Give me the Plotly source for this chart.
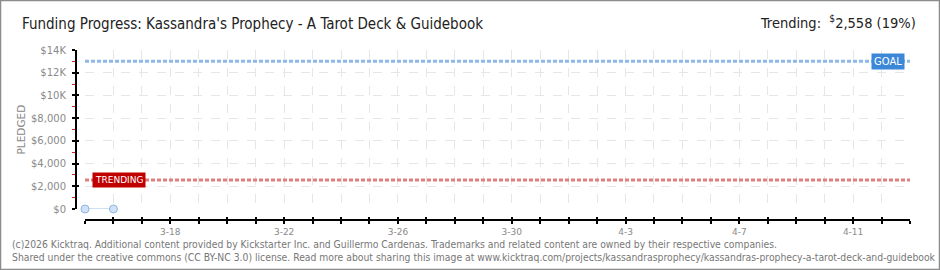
import plotly.graph_objects as go
import pandas as pd

# ---- data ----
dates = ["2026-03-15", "2026-03-16"]
pledged = [0, 0]
goal = 13000
trending = 2558
trending_pct = 19
x_start = "2026-03-15"
x_end = "2026-04-13"
y_tickvals = [0, 2000, 4000, 6000, 8000, 10000, 12000, 14000]
y_ticktext = ["$0", "$2,000", "$4,000", "$6,000", "$8,000", "$10K", "$12K", "$14K"]
y_minor = [1000, 3000, 5000, 7000, 9000, 11000, 13000]
title_text = "Funding Progress: Kassandra's Prophecy - A Tarot Deck & Guidebook"
footer1 = ("(c)2026 Kicktraq. Additional content provided by Kickstarter Inc. and Guillermo Cardenas. "
           "Trademarks and related content are owned by their respective companies.")
footer2 = ("Shared under the creative commons (CC BY-NC 3.0) license. Read more about sharing this image at "
           "www.kicktraq.com/projects/kassandrasprophecy/kassandras-prophecy-a-tarot-deck-and-guidebook")

# ---- layout geometry ----
W, H = 940, 270
ML, MR, MT, MB = 76, 30, 50, 50
PW, PH = W - ML - MR, H - MT - MB


def px(x):
    return (x - ML) / PW


def py(y):
    return (H - MB - y) / PH


days = pd.date_range(x_start, x_end, freq="D")
day_text = [d.strftime("%-m-%-d") if (d - pd.Timestamp("2026-03-18")).days % 4 == 0 else " " for d in days]

fig = go.Figure()

# goal and trending lines
fig.add_trace(go.Scatter(x=[x_start, x_end], y=[goal, goal], mode="lines",
                         line=dict(color="#8db8e8", width=3, dash="4px,2px"),
                         hoverinfo="skip", showlegend=False))
fig.add_trace(go.Scatter(x=[x_start, x_end], y=[trending, trending], mode="lines",
                         line=dict(color="#df7f7f", width=3, dash="4px,2px"),
                         hoverinfo="skip", showlegend=False))
# pledged data
fig.add_trace(go.Scatter(x=dates, y=pledged, mode="lines+markers",
                         line=dict(color="#cfe1f5", width=2),
                         marker=dict(size=8, color="#cfe2f8", line=dict(color="#8fb6e0", width=1)),
                         cliponaxis=False, showlegend=False))
# overlay trace on second axes to create inside ticks
fig.add_trace(go.Scatter(x=[x_start], y=[None], xaxis="x2", yaxis="y2", showlegend=False,
                         hoverinfo="skip"))

font_tick = dict(family="DejaVu Sans", size=9, color="#8a8a8a")

fig.update_layout(
    width=W, height=H,
    margin=dict(l=ML, r=MR, t=MT, b=MB),
    paper_bgcolor="white", plot_bgcolor="white",
    xaxis=dict(
        domain=[9 / PW, 1], range=[x_start, x_end], anchor="free", position=0,
        tickmode="array", tickvals=days, ticktext=day_text,
        ticks="outside", ticklen=3, tickwidth=1.5, tickcolor="black",
        showline=True, linecolor="black", linewidth=2,
        showgrid=True, gridcolor="#e6e6e6", griddash="dash", gridwidth=1,
        tickfont=font_tick, zeroline=False,
    ),
    xaxis2=dict(
        domain=[9 / PW, 1], range=[x_start, x_end], anchor="free", position=0, overlaying="x",
        tickmode="array", tickvals=days, showticklabels=False,
        ticks="inside", ticklen=3, tickwidth=1.5, tickcolor="black",
        showline=False, showgrid=False, zeroline=False,
    ),
    yaxis=dict(
        domain=[11 / PH, 1], range=[0, 14000], anchor="free", position=0,
        tickmode="array", tickvals=y_tickvals, ticktext=y_ticktext,
        ticks="outside", ticklen=3, tickwidth=1.5, tickcolor="black",
        minor=dict(tickmode="array", tickvals=y_minor, ticks="outside", ticklen=3,
                   tickcolor="#e02020", tickwidth=1, showgrid=False),
        showline=True, linecolor="black", linewidth=2,
        showgrid=True, gridcolor="#e6e6e6", griddash="dash", gridwidth=1,
        tickfont=dict(family="DejaVu Sans", size=10, color="#8a8a8a"),
        zeroline=False, ticklabelstandoff=4,
    ),
    yaxis2=dict(
        domain=[11 / PH, 1], range=[0, 14000], anchor="free", position=0, overlaying="y",
        tickmode="array", tickvals=y_tickvals, showticklabels=False,
        ticks="inside", ticklen=2, tickwidth=1.5, tickcolor="black",
        showline=False, showgrid=False, zeroline=False,
    ),
    showlegend=False,
)

ann = []
ann.append(dict(text=title_text, xref="paper", yref="paper", x=px(20), y=py(24),
                xanchor="left", yanchor="middle", showarrow=False,
                font=dict(family="DejaVu Sans Condensed", size=15, color="#222")))
ann.append(dict(text=f"Trending:  <sup>$</sup>{trending:,} ({trending_pct}%)", xref="paper", yref="paper",
                x=px(918), y=py(22), xanchor="right", yanchor="middle", showarrow=False,
                font=dict(family="DejaVu Sans Condensed", size=14.5, color="#222")))
ann.append(dict(text="PLEDGED", xref="paper", yref="paper", x=px(20), y=py(129.5), textangle=-90,
                xanchor="center", yanchor="middle", showarrow=False,
                font=dict(family="DejaVu Sans", size=10.5, color="#8a8a8a")))
ann.append(dict(text="GOAL", xref="x domain", yref="y", x=1, y=goal, xanchor="right", yanchor="middle",
                xshift=-5, showarrow=False, bgcolor="#3b88d8", borderpad=2,
                font=dict(family="DejaVu Sans", size=10, color="white")))
ann.append(dict(text="TRENDING", xref="x domain", yref="y", x=0, y=trending, xanchor="left", yanchor="middle",
                xshift=7, showarrow=False, bgcolor="#c00000", borderpad=2,
                font=dict(family="DejaVu Sans", size=9, color="white")))
ann.append(dict(text=footer1, xref="paper", yref="paper", x=px(10), y=py(243.5), xanchor="left",
                yanchor="middle", showarrow=False,
                font=dict(family="DejaVu Sans Condensed", size=10.3, color="#777")))
ann.append(dict(text=footer2, xref="paper", yref="paper", x=px(10), y=py(256.5), xanchor="left",
                yanchor="middle", showarrow=False,
                font=dict(family="DejaVu Sans Condensed", size=10.3, color="#777")))
fig.update_layout(annotations=ann)

fig.add_shape(type="rect", xref="paper", yref="paper", x0=px(0.5), x1=px(939.5), y0=py(0.5), y1=py(269.5),
              line=dict(color="#8c8c8c", width=1.5), layer="above")

fig.write_html("out.html")
